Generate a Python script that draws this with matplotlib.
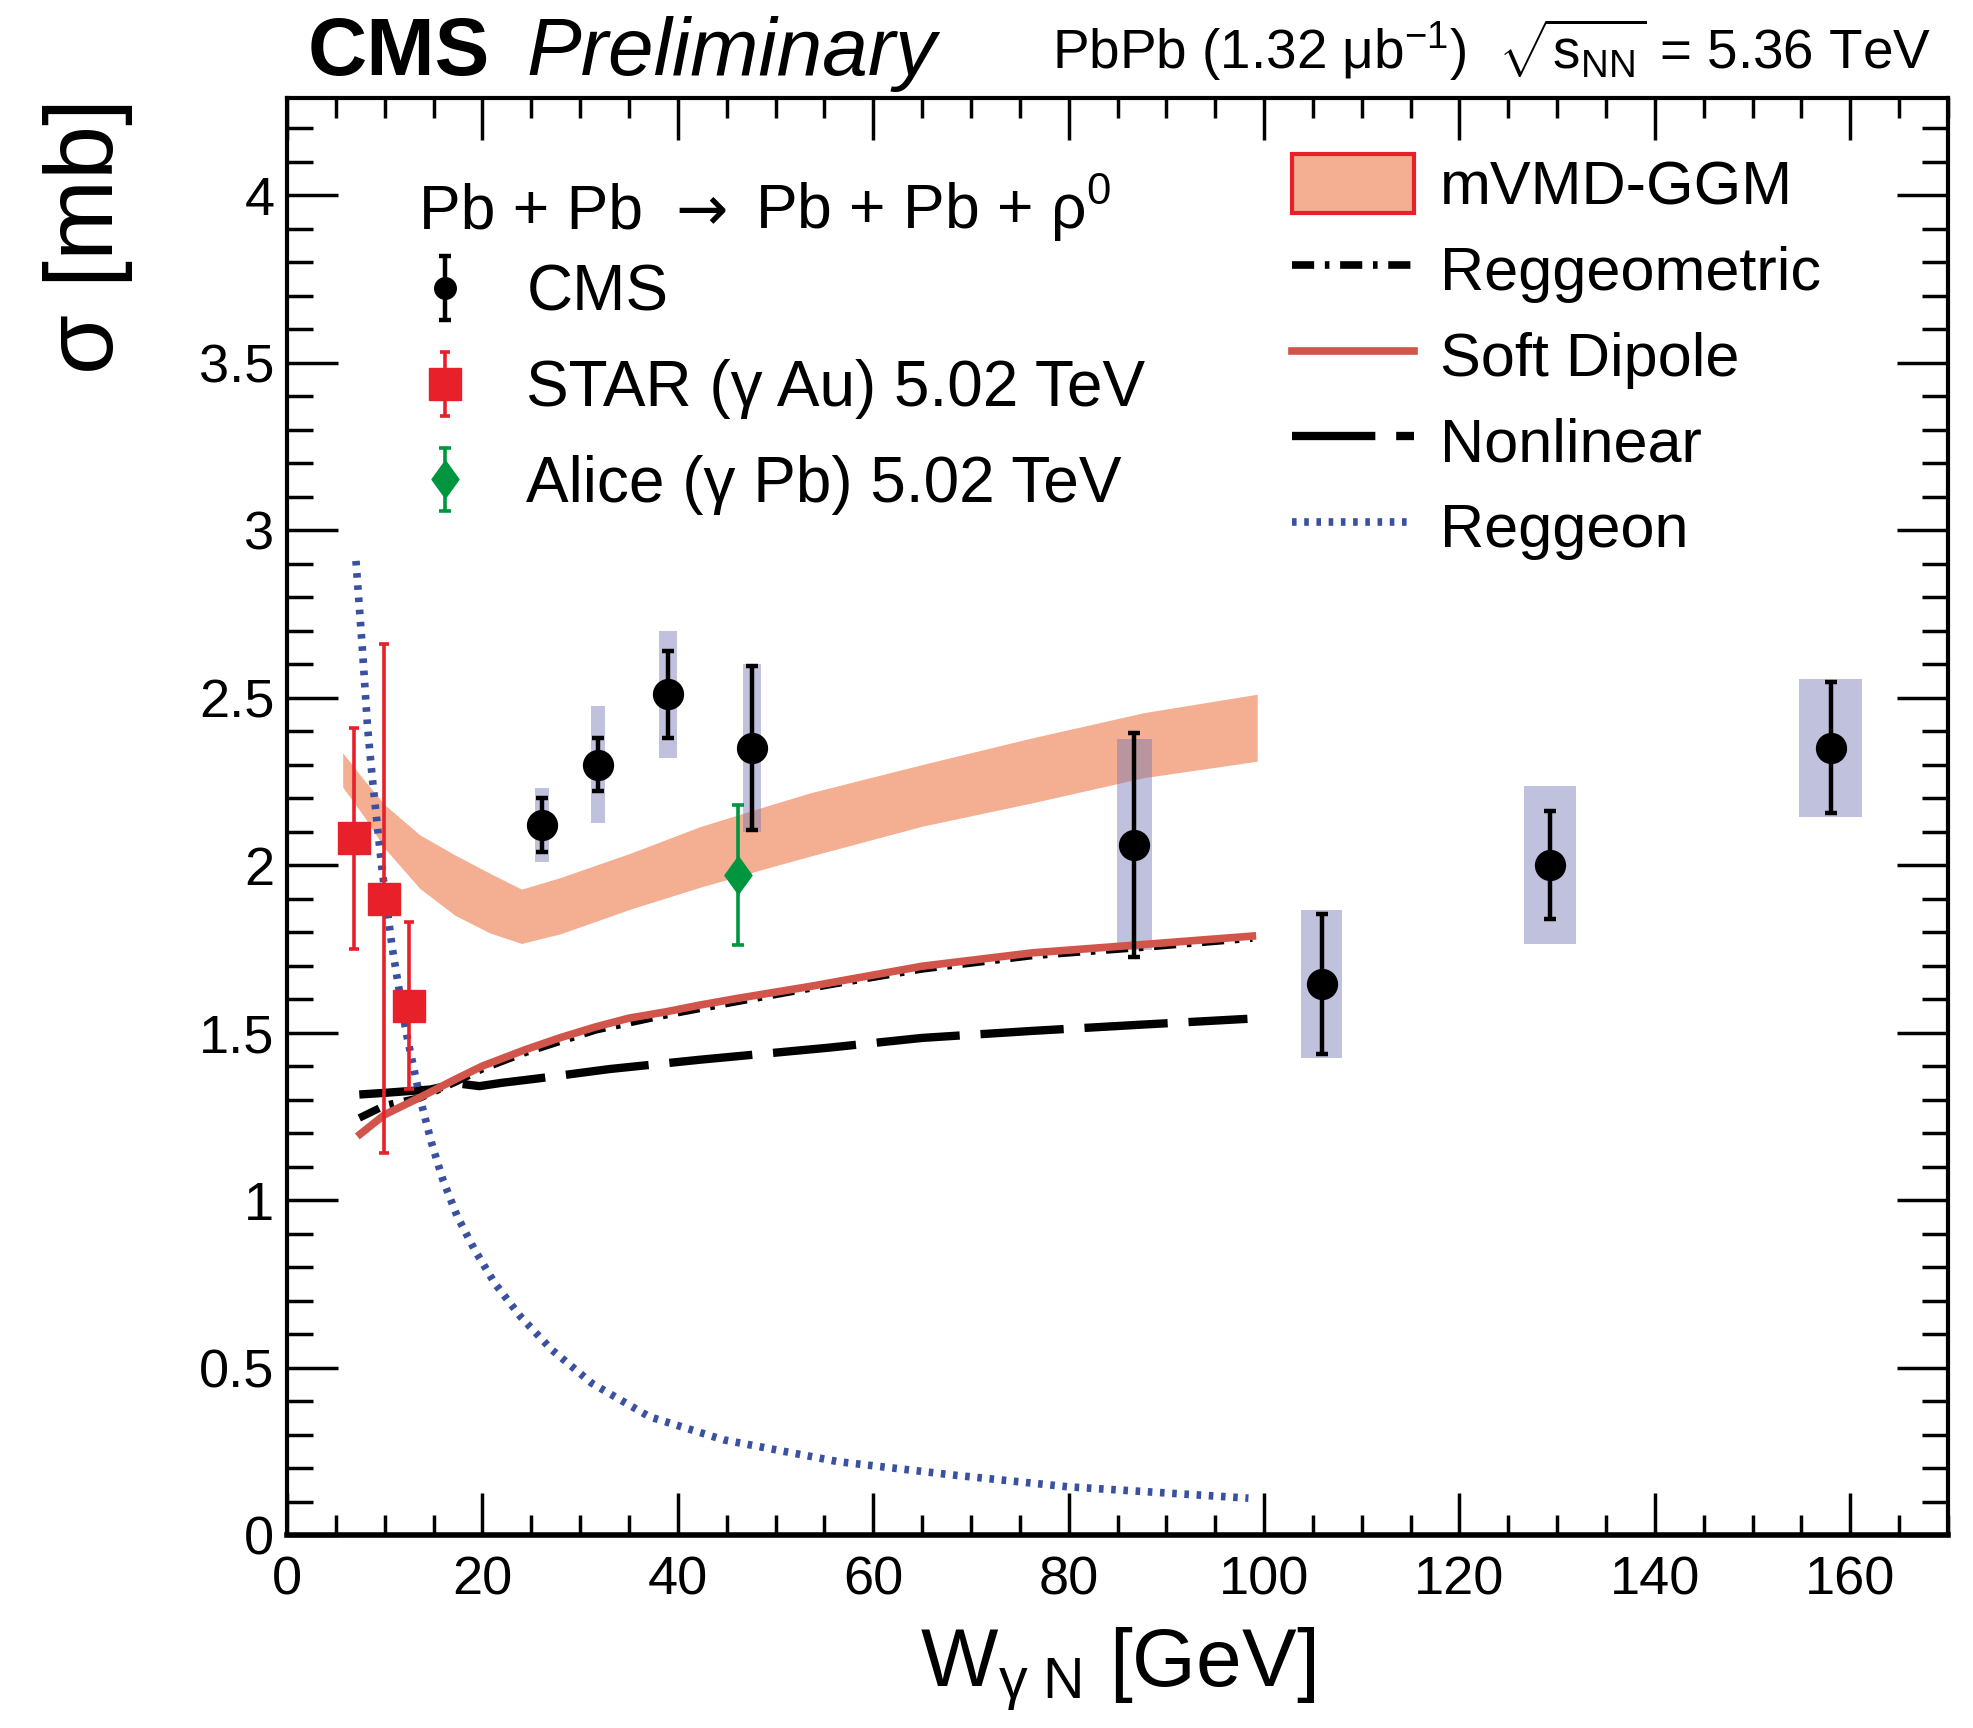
import numpy as np
import matplotlib
matplotlib.use("Agg")
import matplotlib.pyplot as plt
from matplotlib.patches import Rectangle, Patch
from matplotlib.lines import Line2D
from matplotlib.ticker import MultipleLocator

plt.rcParams['font.family'] = ['Liberation Sans', 'DejaVu Sans']
plt.rcParams['mathtext.fontset'] = 'custom'
plt.rcParams['mathtext.rm'] = 'Liberation Sans'
plt.rcParams['mathtext.it'] = 'Liberation Sans:italic'
plt.rcParams['mathtext.bf'] = 'Liberation Sans:bold'

# CMS points (stat. error bars, syst. boxes)
cms_w = [26.1, 31.8, 39.0, 47.6, 86.7, 105.9, 129.3, 158.0]
cms_sigma = [2.12, 2.30, 2.51, 2.35, 2.06, 1.645, 2.00, 2.35]
cms_stat = [0.08, 0.08, 0.13, 0.245, 0.335, 0.21, 0.16, 0.196]
cms_syst = [0.11, 0.175, 0.19, 0.25, 0.315, 0.222, 0.235, 0.206]
cms_box_hw = [0.67, 0.7, 0.9, 0.93, 1.8, 2.1, 2.65, 3.2]

# STAR (gamma Au) and ALICE (gamma Pb)
star_w = [6.9, 9.9, 12.5]
star_sigma = [2.08, 1.90, 1.58]
star_err = [0.33, 0.76, 0.25]

alice_w = [46.15]
alice_sigma = [1.97]
alice_err = [0.21]

# mVMD-GGM band
band_w = [5.7, 8.0, 10.0, 13.6, 17.2, 20.8, 24.0, 28.0, 35.2, 42.3, 49.5,
          53.6, 65.0, 76.3, 87.7, 99.3]
band_hi = [2.335, 2.25, 2.18, 2.09, 2.03, 1.975, 1.928, 1.963, 2.036, 2.115,
           2.18, 2.216, 2.300, 2.380, 2.455, 2.510]
band_lo = [2.233, 2.14, 2.05, 1.93, 1.85, 1.797, 1.766, 1.795, 1.869, 1.934,
           1.994, 2.027, 2.116, 2.186, 2.261, 2.310]

# model curves
sd_w = [7.5, 10.0, 13.65, 17.2, 20.0, 24.4, 28.0, 31.6, 35.0, 38.8, 42.25,
        45.9, 53.6, 65.0, 76.3, 87.7, 98.8]
sd_sigma = [1.197, 1.255, 1.307, 1.360, 1.400, 1.449, 1.485, 1.517, 1.543,
            1.562, 1.582, 1.601, 1.638, 1.698, 1.738, 1.763, 1.788]

rg_w = [7.4, 10.0, 13.6, 17.2, 20.0, 24.4, 31.6, 38.8, 45.9, 55.5, 65.0,
        76.3, 87.7, 98.8]
rg_sigma = [1.245, 1.282, 1.305, 1.352, 1.392, 1.441, 1.508, 1.553, 1.592,
            1.643, 1.690, 1.730, 1.755, 1.782]

nl_w = [7.4, 10.0, 14.7, 17.5, 19.7, 22.0, 25.7, 33.0, 42.3, 55.5, 65.0,
        76.3, 87.7, 98.3]
nl_sigma = [1.315, 1.320, 1.330, 1.348, 1.340, 1.350, 1.363, 1.391, 1.419,
            1.455, 1.484, 1.505, 1.524, 1.541]

reggeon_w = [7.06, 7.72, 8.25, 8.73, 9.7, 10.77, 12.2, 13.65, 14.8, 15.96,
             17.43, 19.19, 21.25, 23.9, 27.1, 31.2, 37.1, 44.7, 56.4, 68.2,
             79.9, 98.4]
reggeon_sigma = [2.908, 2.644, 2.41, 2.26, 1.994, 1.753, 1.50, 1.30, 1.17,
                 1.06, 0.951, 0.852, 0.752, 0.652, 0.553, 0.453, 0.353, 0.284,
                 0.219, 0.179, 0.144, 0.110]

band_col = '#f4ae91'
red = '#e8202a'
sd_col = '#d2554b'
blue = '#3a50a0'
green = '#009640'
box_col = '#7377b4'

rg_style = (0, (2.9, 1.4, 0.6, 1.4))
nl_style = (0, (10.0, 2.5))
reggeon_style = (0, (0.6, 1.0))

fig = plt.figure(figsize=(19.73, 17.28), dpi=100)
ax = fig.add_axes([287 / 1973, 1 - 1535 / 1728, 1661 / 1973, 1437 / 1728])

ax.fill_between(band_w, band_lo, band_hi, color=band_col, lw=0, zorder=1)

for w, s, e, hw in zip(cms_w, cms_sigma, cms_syst, cms_box_hw):
    ax.add_patch(Rectangle((w - hw, s - e), 2 * hw, 2 * e, facecolor=box_col,
                           alpha=0.45, lw=0, zorder=2))

ax.plot(rg_w, rg_sigma, color='black', lw=5.5, linestyle=rg_style, zorder=3)
ax.plot(sd_w, sd_sigma, color=sd_col, lw=5.5, zorder=3.5)
ax.plot(nl_w, nl_sigma, color='black', lw=6, linestyle=nl_style, zorder=3)
ax.plot(reggeon_w, reggeon_sigma, color=blue, lw=5.5,
        linestyle=reggeon_style, zorder=3)

cms = ax.errorbar(cms_w, cms_sigma, yerr=cms_stat, fmt='o', color='black',
                  ms=21.5, lw=3.2, capsize=4, capthick=3.2, zorder=6)
star = ax.errorbar(star_w, star_sigma, yerr=star_err, fmt='s', color=red,
                   ms=22.5, lw=2.6, capsize=3.4, capthick=2.6, zorder=5)
diamond = [(0, 1), (0.72, 0), (0, -1), (-0.72, 0), (0, 1)]
alice = ax.errorbar(alice_w, alice_sigma, yerr=alice_err, fmt='none',
                    color=green, lw=2.6, capsize=4, capthick=2.6, zorder=5)
ax.plot(alice_w, alice_sigma, ls='none', marker=diamond, ms=27, color=green,
        zorder=5)

ax.set_xlim(0, 170)
ax.set_ylim(0, 4.29)
ax.xaxis.set_major_locator(MultipleLocator(20))
ax.xaxis.set_minor_locator(MultipleLocator(5))
ax.yaxis.set_major_locator(MultipleLocator(0.5))
ax.yaxis.set_minor_locator(MultipleLocator(0.1))
ax.yaxis.set_major_formatter(plt.FuncFormatter(lambda v, p: f'{v:g}'))
ax.tick_params(which='both', direction='in', top=True, right=True,
               width=2.5, labelsize=39)
ax.tick_params(axis='x', which='major', length=30, pad=15)
ax.tick_params(axis='x', which='minor', length=14.5)
ax.tick_params(axis='y', which='major', length=37, pad=9)
ax.tick_params(axis='y', which='minor', length=19)
for sp in ax.spines.values():
    sp.set_linewidth(3)
ax.spines['bottom'].set_linewidth(4)

ax.set_xlabel(r'W$_{\mathrm{γ\ N}}$ [GeV]', fontsize=59)
ax.xaxis.set_label_coords(0.5, -0.063)
ax.xaxis.label.set_va('top')
ax.set_ylabel('σ [mb]', fontsize=70, loc='top')
ax.yaxis.set_label_coords(-0.093, 1.0)

# process header of the data legend
ax.text(0.0795, 0.909, 'Pb + Pb', fontsize=45, transform=ax.transAxes,
        va='baseline', ha='left')
ax.text(0.234, 0.909, '→', fontsize=45, family='DejaVu Sans',
        transform=ax.transAxes, va='baseline', ha='left')
ax.text(0.2818, 0.909, r'Pb + Pb + ρ$^{\mathrm{0}}$', fontsize=45,
        transform=ax.transAxes, va='baseline', ha='left')

# legends
cms_proxy = ax.errorbar([np.nan], [np.nan], yerr=[0.1], fmt='o', color='black',
                        ms=15.5, lw=3.2, capsize=4, capthick=3.2)
alice_proxy = ax.errorbar([np.nan], [np.nan], yerr=[0.1], fmt='none',
                          color=green, lw=2.6, capsize=4, capthick=2.6)
alice_h = (alice_proxy, Line2D([], [], ls='none', marker=diamond, ms=27,
                               color=green))
leg1 = ax.legend([cms_proxy, star, alice_h],
                 ['CMS', 'STAR (γ Au) 5.02 TeV', 'Alice (γ Pb) 5.02 TeV'],
                 fontsize=46, frameon=False,
                 loc='upper left', bbox_to_anchor=(0.0795, 0.885),
                 borderpad=0, borderaxespad=0, handlelength=0.8,
                 handletextpad=0.88, labelspacing=0.56)
ax.add_artist(leg1)

model_handles = [
    Patch(facecolor=band_col, edgecolor=red, lw=3),
    Line2D([], [], color='black', lw=5.5, linestyle=rg_style),
    Line2D([], [], color=sd_col, lw=5.5),
    Line2D([], [], color='black', lw=6, linestyle=nl_style),
    Line2D([], [], color=blue, lw=5.5, linestyle=reggeon_style),
]
model_labels = ['mVMD-GGM', 'Reggeometric', 'Soft Dipole', 'Nonlinear',
                'Reggeon']
ax.legend(model_handles, model_labels, fontsize=44, frameon=False,
          loc='upper left', bbox_to_anchor=(0.605, 0.961), borderpad=0,
          borderaxespad=0, handlelength=2.0, handleheight=1.1,
          handletextpad=0.43, labelspacing=0.37)

# header
fig.text(308 / 1973, 1 - 75 / 1728, 'CMS', fontsize=59, fontweight='bold',
         va='baseline', ha='left')
fig.text(526 / 1973, 1 - 75 / 1728, 'Preliminary', fontsize=59,
         style='italic', va='baseline', ha='left')
fig.text(1931 / 1973, 1 - 69 / 1728,
         r'PbPb (1.32 μb$^{\mathrm{-1}}$)  $\sqrt{\mathrm{s}_{\mathrm{NN}}}$ = 5.36 TeV',
         fontsize=39.5, va='baseline', ha='right')

fig.savefig('out.png', dpi=100)
